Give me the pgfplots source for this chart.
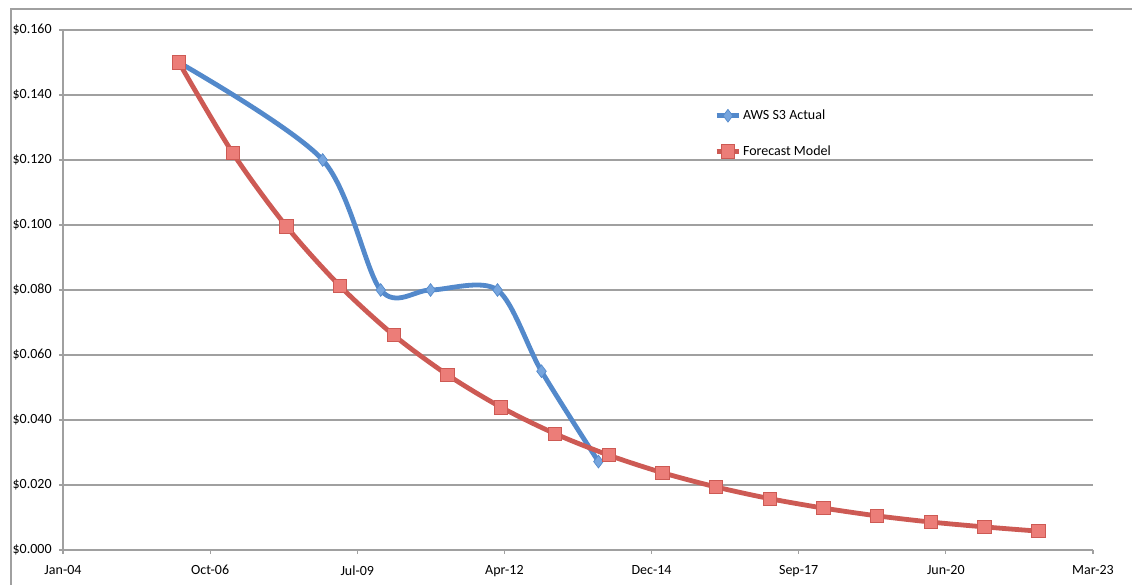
\documentclass[border=0pt]{standalone}
\usepackage{pgfplots}
\pgfplotsset{compat=1.18}
\usepackage{fontspec}
\setmainfont{Carlito}
\definecolor{blueline}{RGB}{83,137,203}
\definecolor{bluefill}{RGB}{118,165,222}
\definecolor{redline}{RGB}{205,90,84}
\definecolor{redfill}{RGB}{236,125,120}
\definecolor{gridgrey}{RGB}{160,160,160}
\begin{document}
\begin{tikzpicture}[x=0.75pt,y=0.75pt]
\useasboundingbox (0,0) rectangle (1132,585);
\draw[gridgrey,line width=1.2pt] (11,0) -- (11,576) -- (1132,576);
\begin{axis}[
  at={(47.25pt,26.25pt)}, anchor=south west,
  scale only axis, width=772.5pt, height=390pt,
  xmin=0, xmax=7000, ymin=0, ymax=0.16,
  axis lines=left, axis line style={-, gridgrey, line width=0.8pt},
  xtick={0,1000,...,7000},
  xticklabels={Jan-04,Oct-06,Jul-09,Apr-12,Dec-14,Sep-17,Jun-20,Mar-23},
  ytick={0,0.02,...,0.16},
  yticklabels={\$0.000,\$0.020,\$0.040,\$0.060,\$0.080,\$0.100,\$0.120,\$0.140,\$0.160},
  ymajorgrids, grid style={gridgrey, line width=0.8pt},
  tick style={gridgrey, line width=0.8pt},
  tick align=outside, major tick length=3pt,
  tick label style={font=\fontsize{10.5}{12}\selectfont, black},
  xticklabel style={yshift=-5pt},
  yticklabel style={xshift=-2pt},
  clip=false,
  legend style={at={(0.632,0.852)}, anchor=north west, draw=none, fill=none,
    font=\fontsize{10.5}{12}\selectfont, row sep=14pt, inner sep=0pt,
    /tikz/every even column/.append style={column sep=0pt},
    nodes={inner xsep=1pt}},
  legend cell align=left,
  legend image code/.code={
    \draw[#1, mark=none] (0pt,0pt) -- (17pt,0pt);
    \draw[#1, mark repeat=1, only marks] plot coordinates {(8.5pt,0pt)};
  },
]
\addplot[blueline, line width=3.6pt, smooth, tension=0.5,
  mark=diamond*, mark size=4.8pt,
  mark options={fill=bluefill, draw=blueline, line width=0.5pt, solid}]
  coordinates {
  (788,0.150) (1765,0.120) (2159,0.080) (2498,0.080) (2953,0.080) (3252,0.055) (3639,0.0272)
  };
\addlegendentry{AWS S3 Actual}
\addplot[redline, line width=3.6pt, smooth, tension=0.5,
  mark=square*, mark size=5pt,
  mark options={fill=redfill, draw=redline, line width=0.6pt, solid}]
  coordinates {
  (788,0.1500) (1153,0.1222) (1518,0.0996) (1883,0.0812) (2248,0.0661)
  (2613,0.0539) (2978,0.0439) (3343,0.0358) (3708,0.0292) (4073,0.0238)
  (4438,0.0194) (4803,0.0158) (5168,0.0129) (5533,0.0105) (5898,0.0086)
  (6263,0.0071) (6628,0.0058)
  };
\addlegendentry{Forecast Model}
\end{axis}
\end{tikzpicture}
\end{document}
